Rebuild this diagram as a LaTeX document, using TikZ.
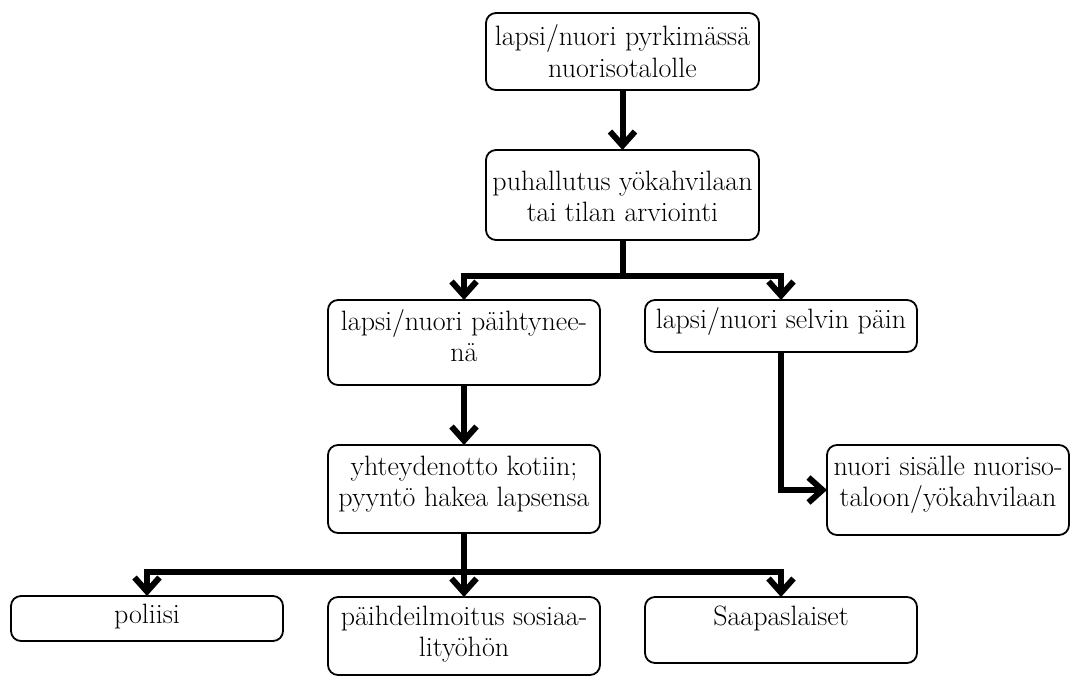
\documentclass[tikz,border=0pt]{standalone}
\usepackage{fontspec}
\usetikzlibrary{arrows.meta}
\newcommand{\bxt}[4]{\parbox[t][#2pt][t]{#3pt}{\fontsize{28}{31.5}\selectfont\lineskiplimit=-100pt\centering\rule{0pt}{#1pt}#4}}
\tikzset{
  box/.style={draw, line width=1.8pt, rounded corners=10pt, inner sep=0pt, outer sep=0pt, anchor=north west},
  conn/.style={line width=6pt},
  arr/.style={line width=6pt, -{Straight Barb[length=14pt,width=25pt]}}
}
\begin{document}
\begin{tikzpicture}[x=1pt,y=-1pt]
\useasboundingbox (0,0) rectangle (1072,677);
\node[box] (b1) at (486,13)  {\bxt{33}{77}{273}{lapsi/nuori pyrkimässä\\nuorisotalolle}};
\node[box] (b2) at (486,150) {\bxt{40}{90}{273}{puhallutus yökahvilaan\\tai tilan arviointi}};
\node[box] (b3) at (328,300) {\bxt{30}{85}{272}{lapsi/nuori päihtynee-\\nä}};
\node[box] (b4) at (645,300) {\bxt{28}{52}{272}{lapsi/nuori selvin päin}};
\node[box] (b5) at (328,445) {\bxt{30}{88}{272}{yhteydenotto kotiin;\\pyyntö hakea lapsensa}};
\node[box] (b6) at (827,445) {\bxt{30}{90}{242}{nuori sisälle nuoriso-\\taloon/yökahvilaan}};
\node[box] (b8) at (11,596)  {\bxt{27}{45}{272}{poliisi}};
\node[box] (b7) at (328,597) {\bxt{28}{78}{272}{päihdeilmoitus sosiaa-\\lityöhön}};
\node[box] (b9) at (645,597) {\bxt{28}{66}{272}{Saapaslaiset}};
\coordinate (j1) at (b2.south |- 0,276);
\coordinate (j2) at (b5.south |- 0,572);
\draw[arr] (b1) -- (b2);
\draw[conn] (b2.south) -- (j1);
\draw[arr] (j1) -| (b3.north);
\draw[arr] (j1) -| (b4.north);
\draw[arr] (b3) -- (b5);
\draw[arr] (b4.south) |- (b6.west);
\draw[conn] (b5.south) -- (j2);
\draw[arr] (j2) -| (b8.north);
\draw[arr] (j2) -- (b7.north);
\draw[arr] (j2) -| (b9.north);
\end{tikzpicture}
\end{document}
